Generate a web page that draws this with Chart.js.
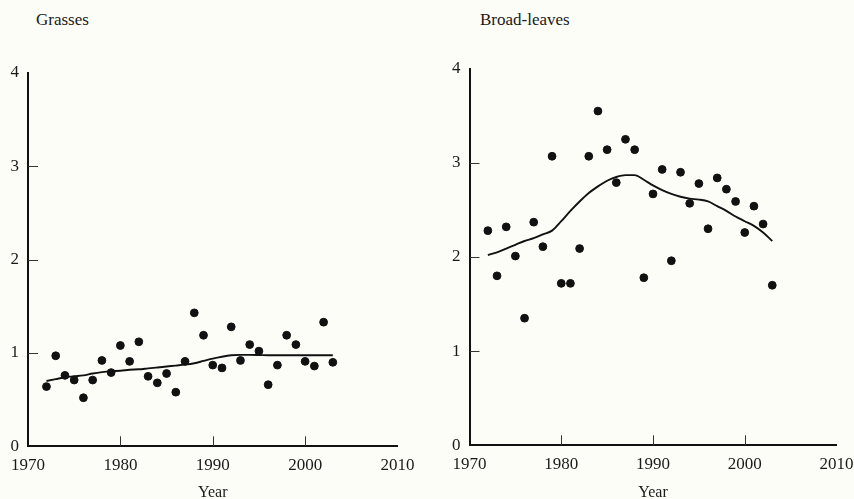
<!DOCTYPE html>
<html>
<head>
<meta charset="utf-8">
<script src="https://cdn.jsdelivr.net/npm/chart.js@4.4.1/dist/chart.umd.min.js"></script>
<style>
  html, body { margin: 0; padding: 0; background: #fdfdf8; }
  body { width: 854px; height: 499px; position: relative; overflow: hidden; }
  .panel { position: absolute; top: 0; width: 427px; height: 499px; }
  .title { position: absolute; top: 11px; font: 17px/1 "Liberation Serif", "Times New Roman", serif; color: #1a1a1a; }
</style>
</head>
<body>
<div class="title" style="left:36px">Grasses</div>
<div class="title" style="left:480px">Broad-leaves</div>
<div class="panel" style="left:0"><canvas id="grassChart"></canvas></div>
<div class="panel" style="left:427px"><canvas id="broadChart"></canvas></div>
<script>
const years = [1972, 1973, 1974, 1975, 1976, 1977, 1978, 1979, 1980, 1981, 1982, 1983, 1984, 1985, 1986, 1987,
               1988, 1989, 1990, 1991, 1992, 1993, 1994, 1995, 1996, 1997, 1998, 1999, 2000, 2001, 2002, 2003];

const grassValues = [0.64, 0.97, 0.76, 0.71, 0.52, 0.71, 0.92, 0.79, 1.08, 0.91, 1.12, 0.75, 0.68, 0.78, 0.58, 0.91,
                     1.43, 1.19, 0.87, 0.84, 1.28, 0.92, 1.09, 1.02, 0.66, 0.87, 1.19, 1.09, 0.91, 0.86, 1.33, 0.90];
const grassTrend = [0.70, 0.72, 0.74, 0.75, 0.76, 0.78, 0.795, 0.805, 0.81, 0.82, 0.825, 0.835, 0.845, 0.855, 0.865, 0.875,
                    0.89, 0.915, 0.94, 0.96, 0.975, 0.98, 0.98, 0.978, 0.975, 0.975, 0.975, 0.975, 0.975, 0.975, 0.975, 0.975];

const broadValues = [2.28, 1.80, 2.32, 2.01, 1.35, 2.37, 2.11, 3.07, 1.72, 1.72, 2.09, 3.07, 3.55, 3.14, 2.79, 3.25,
                     3.14, 1.78, 2.67, 2.93, 1.96, 2.90, 2.57, 2.78, 2.30, 2.84, 2.72, 2.59, 2.26, 2.54, 2.35, 1.70];
const broadTrend = [2.02, 2.05, 2.09, 2.13, 2.17, 2.20, 2.24, 2.28, 2.38, 2.49, 2.59, 2.68, 2.75, 2.81, 2.85, 2.87,
                    2.87, 2.82, 2.76, 2.71, 2.67, 2.64, 2.62, 2.61, 2.59, 2.54, 2.49, 2.43, 2.38, 2.33, 2.26, 2.17];

const xMin = 1970, xMax = 2010, xStep = 10;
const yMin = 0, yMax = 4, yStep = 1;

const ink = '#111';
const serif = '"Liberation Serif", "Times New Roman", serif';

function pairs(values) {
  return years.map((y, i) => ({ x: y, y: values[i] }));
}

// small tick marks pointing into the plot, skipping the ends of each axis
const innerTicks = {
  id: 'innerTicks',
  afterDraw(chart) {
    const { ctx, chartArea } = chart;
    const xs = chart.scales.x, ys = chart.scales.y;
    ctx.save();
    ctx.strokeStyle = '#333';
    ctx.lineWidth = 1;
    ctx.beginPath();
    xs.ticks.forEach(t => {
      if (t.value === xMin || t.value === xMax) return;
      const px = Math.round(xs.getPixelForValue(t.value)) + 0.5;
      ctx.moveTo(px, chartArea.bottom);
      ctx.lineTo(px, chartArea.bottom - 10);
    });
    ys.ticks.forEach(t => {
      if (t.value === yMin || t.value === yMax) return;
      const py = Math.round(ys.getPixelForValue(t.value)) + 0.5;
      ctx.moveTo(chartArea.left, py);
      ctx.lineTo(chartArea.left + 10, py);
    });
    ctx.stroke();
    ctx.restore();
  }
};

function makeChart(id, values, trend, box) {
  return new Chart(document.getElementById(id), {
    type: 'scatter',
    data: {
      datasets: [{
        data: pairs(values),
        backgroundColor: ink,
        borderColor: ink,
        pointRadius: 3.9,
        pointHoverRadius: 3.9
      }, {
        data: pairs(trend),
        showLine: true,
        borderColor: ink,
        borderWidth: 1.9,
        pointRadius: 0,
        tension: 0.4,
        cubicInterpolationMode: 'monotone'
      }]
    },
    options: {
      responsive: true,
      maintainAspectRatio: false,
      animation: false,
      layout: { padding: { left: 0, top: box.top, right: box.right, bottom: 0 } },
      plugins: { legend: { display: false }, tooltip: { enabled: false } },
      scales: {
        x: {
          type: 'linear',
          min: xMin,
          max: xMax,
          afterFit: s => { s.height = box.xHeight; s.paddingLeft = 0; s.paddingRight = 0; },
          ticks: {
            stepSize: xStep,
            padding: 9,
            color: '#1a1a1a',
            font: { family: serif, size: 17 },
            callback: v => String(v)
          },
          grid: { display: false, drawTicks: false },
          border: { display: true, color: ink, width: 2 },
          title: {
            display: true,
            text: 'Year',
            color: '#1a1a1a',
            font: { family: serif, size: 16, lineHeight: 0.8 },
            padding: { top: 0, bottom: 0 }
          }
        },
        y: {
          min: yMin,
          max: yMax,
          afterFit: s => { s.width = box.yWidth; },
          ticks: {
            stepSize: yStep,
            padding: 9,
            color: '#1a1a1a',
            font: { family: serif, size: 17 }
          },
          grid: { display: false, drawTicks: false },
          border: { display: true, color: ink, width: 2 }
        }
      }
    },
    plugins: [innerTicks]
  });
}

makeChart('grassChart', grassValues, grassTrend, { top: 73, right: 29.5, yWidth: 28, xHeight: 52.7 });
makeChart('broadChart', broadValues, broadTrend, { top: 68.7, right: 17.5, yWidth: 42.5, xHeight: 53.7 });
</script>
</body>
</html>
